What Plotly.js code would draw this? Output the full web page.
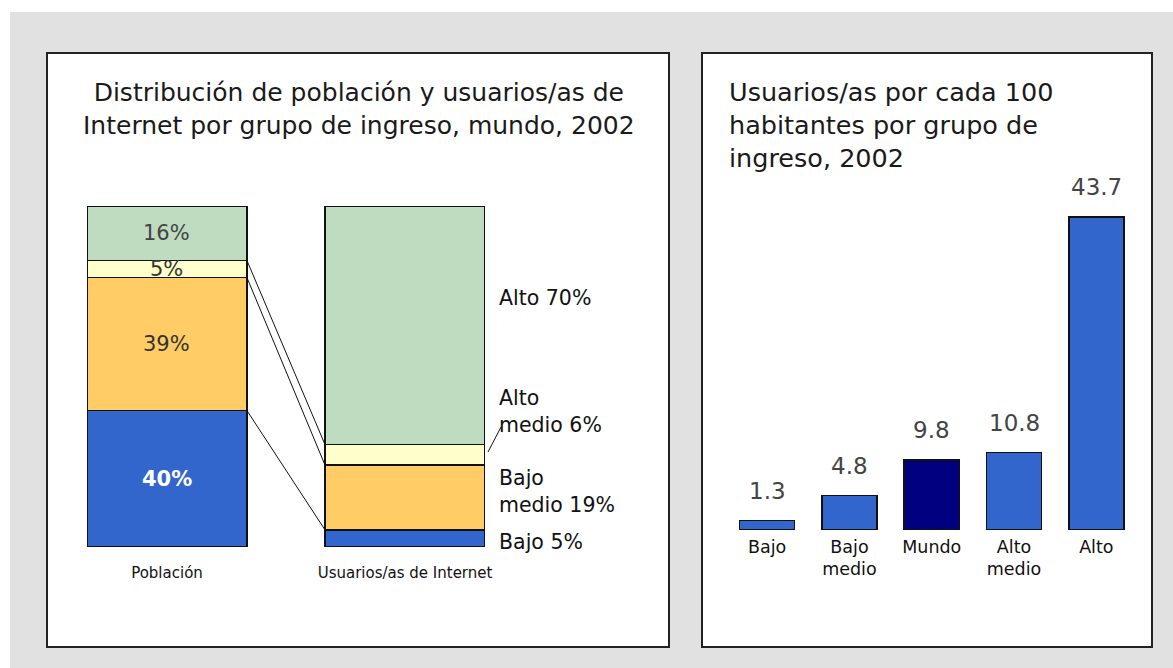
<!DOCTYPE html>
<html>
<head>
<meta charset="utf-8">
<script src="https://cdn.plot.ly/plotly-3.0.1.min.js"></script>
<style>html,body{margin:0;padding:0;background:#fff;}#chart{width:1173px;height:668px;}</style>
</head>
<body>
<div id="chart"></div>
<script>
// ---- Data ----
const groupNames = ['Bajo', 'Bajo medio', 'Alto medio', 'Alto'];
const poblacion = [40, 39, 5, 16];
const usuarios = [5, 19, 6, 70];
const stackCategories = ['Población', 'Usuarios/as de Internet'];

const rateCategories = ['Bajo', 'Bajo medio', 'Mundo', 'Alto medio', 'Alto'];
const rateTickLabels = ['Bajo', 'Bajo<br>medio', 'Mundo', 'Alto<br>medio', 'Alto'];
const rateValues = [1.3, 4.8, 9.8, 10.8, 43.7];

const leftTitle = 'Distribución de población y usuarios/as de<br>Internet por grupo de ingreso, mundo, 2002';
const rightTitle = 'Usuarios/as por cada 100<br>habitantes por grupo de<br>ingreso, 2002';

// ---- Styling ----
const W = 1173, H = 668;
const px = x => x / W;
const py = y => 1 - y / H;
const FONT = 'DejaVu Sans, Verdana, sans-serif';
const groupColors = ['#3366cc', '#ffcc66', '#ffffcc', '#c0dcc0'];
const insideTextColors = ['#ffffff', '#333333', '#333333', '#444444'];
const rateColors = ['#3366cc', '#3366cc', '#000080', '#3366cc', '#3366cc'];
const labelShift = [-4, 6, 43, 27];
const BW = 0.672;

const traces = [];
groupNames.forEach((g, i) => {
  traces.push({
    type: 'bar', x: [0, 1], y: [poblacion[i], usuarios[i]], width: [BW, BW],
    marker: {color: groupColors[i], line: {color: '#111', width: 1.5}},
    xaxis: 'x', yaxis: 'y', hoverinfo: 'skip', showlegend: false
  });
});
traces.push({
  type: 'bar', x: rateCategories, y: rateValues, width: 0.67,
  marker: {color: rateColors, line: {color: '#111', width: 1.5}},
  xaxis: 'x2', yaxis: 'y2', hoverinfo: 'skip', showlegend: false
});

// cumulative sums
const cumP = [], cumU = [];
let sp = 0, su = 0;
poblacion.forEach(v => { cumP.push(sp + v); sp += v; });
usuarios.forEach(v => { cumU.push(su + v); su += v; });

const shapes = [
  {type: 'rect', xref: 'paper', yref: 'paper', x0: px(10), x1: 1, y0: 0, y1: py(12), fillcolor: '#e1e1e1', line: {width: 0}, layer: 'below'},
  {type: 'rect', xref: 'paper', yref: 'paper', x0: px(47), x1: px(669), y0: py(647), y1: py(53), fillcolor: '#ffffff', line: {color: '#222', width: 2}, layer: 'below'},
  {type: 'rect', xref: 'paper', yref: 'paper', x0: px(702), x1: px(1152), y0: py(647), y1: py(53), fillcolor: '#ffffff', line: {color: '#222', width: 2}, layer: 'below'},
  {type: 'line', xref: 'paper', yref: 'paper', x0: px(488), x1: px(501), y0: py(452), y1: py(427), line: {color: '#111', width: 1}}
];
for (let i = 0; i < groupNames.length - 1; i++) {
  shapes.push({type: 'line', xref: 'x', yref: 'y', x0: BW / 2, x1: 1 - BW / 2, y0: cumP[i], y1: cumU[i], line: {color: '#111', width: 1}});
}

const annotations = [
  {xref: 'paper', yref: 'paper', x: px(359), y: py(109), xanchor: 'center', yanchor: 'middle', text: leftTitle, showarrow: false, align: 'center', font: {family: FONT, size: 25, color: '#1a1a1a'}},
  {xref: 'paper', yref: 'paper', x: px(727), y: py(75), xanchor: 'left', yanchor: 'top', text: rightTitle, showarrow: false, align: 'left', font: {family: FONT, size: 25.5, color: '#1a1a1a'}}
];
groupNames.forEach((g, i) => {
  annotations.push({xref: 'x', yref: 'y', x: 0, y: cumP[i] - poblacion[i] / 2, text: poblacion[i] + '%', showarrow: false,
    font: {family: FONT, size: 21, color: insideTextColors[i], weight: i === 0 ? 'bold' : 'normal'}});
  annotations.push({xref: 'x', yref: 'y', x: 1 + BW / 2, xshift: 12, y: cumU[i] - usuarios[i] / 2, yshift: labelShift[i],
    xanchor: 'left', align: 'left', text: g.replace(' ', '<br>') + ' ' + usuarios[i] + '%', showarrow: false,
    font: {family: FONT, size: 20.5, color: '#111'}});
});
rateCategories.forEach((c, i) => {
  annotations.push({xref: 'x2', yref: 'y2', x: c, y: rateValues[i], yanchor: 'bottom', yshift: 15, text: String(rateValues[i]), showarrow: false,
    font: {family: FONT, size: 23, color: '#444'}});
});

const layout = {
  width: W, height: H, margin: {l: 0, r: 0, t: 0, b: 0},
  paper_bgcolor: '#ffffff', plot_bgcolor: 'rgba(0,0,0,0)',
  barmode: 'stack', showlegend: false,
  xaxis: {domain: [px(87), px(485)], range: [-BW / 2, 1 + BW / 2], tickvals: [0, 1], ticktext: stackCategories,
    showgrid: false, zeroline: false, showline: false, ticks: '', ticklabelstandoff: 15, fixedrange: true,
    tickfont: {family: FONT, size: 15, color: '#111'}},
  yaxis: {domain: [py(547), py(206)], range: [0, 100], visible: false, fixedrange: true},
  xaxis2: {domain: [px(726), px(1137.5)], anchor: 'y2', type: 'category', tickvals: rateCategories, ticktext: rateTickLabels,
    showgrid: false, zeroline: false, showline: false, ticks: '', ticklabelstandoff: 4, fixedrange: true,
    tickfont: {family: FONT, size: 17.5, color: '#111'}},
  yaxis2: {domain: [py(530), py(172)], range: [0, 50], visible: false, fixedrange: true},
  shapes: shapes, annotations: annotations
};

Plotly.newPlot('chart', traces, layout, {displayModeBar: false, staticPlot: true});
</script>
</body>
</html>
